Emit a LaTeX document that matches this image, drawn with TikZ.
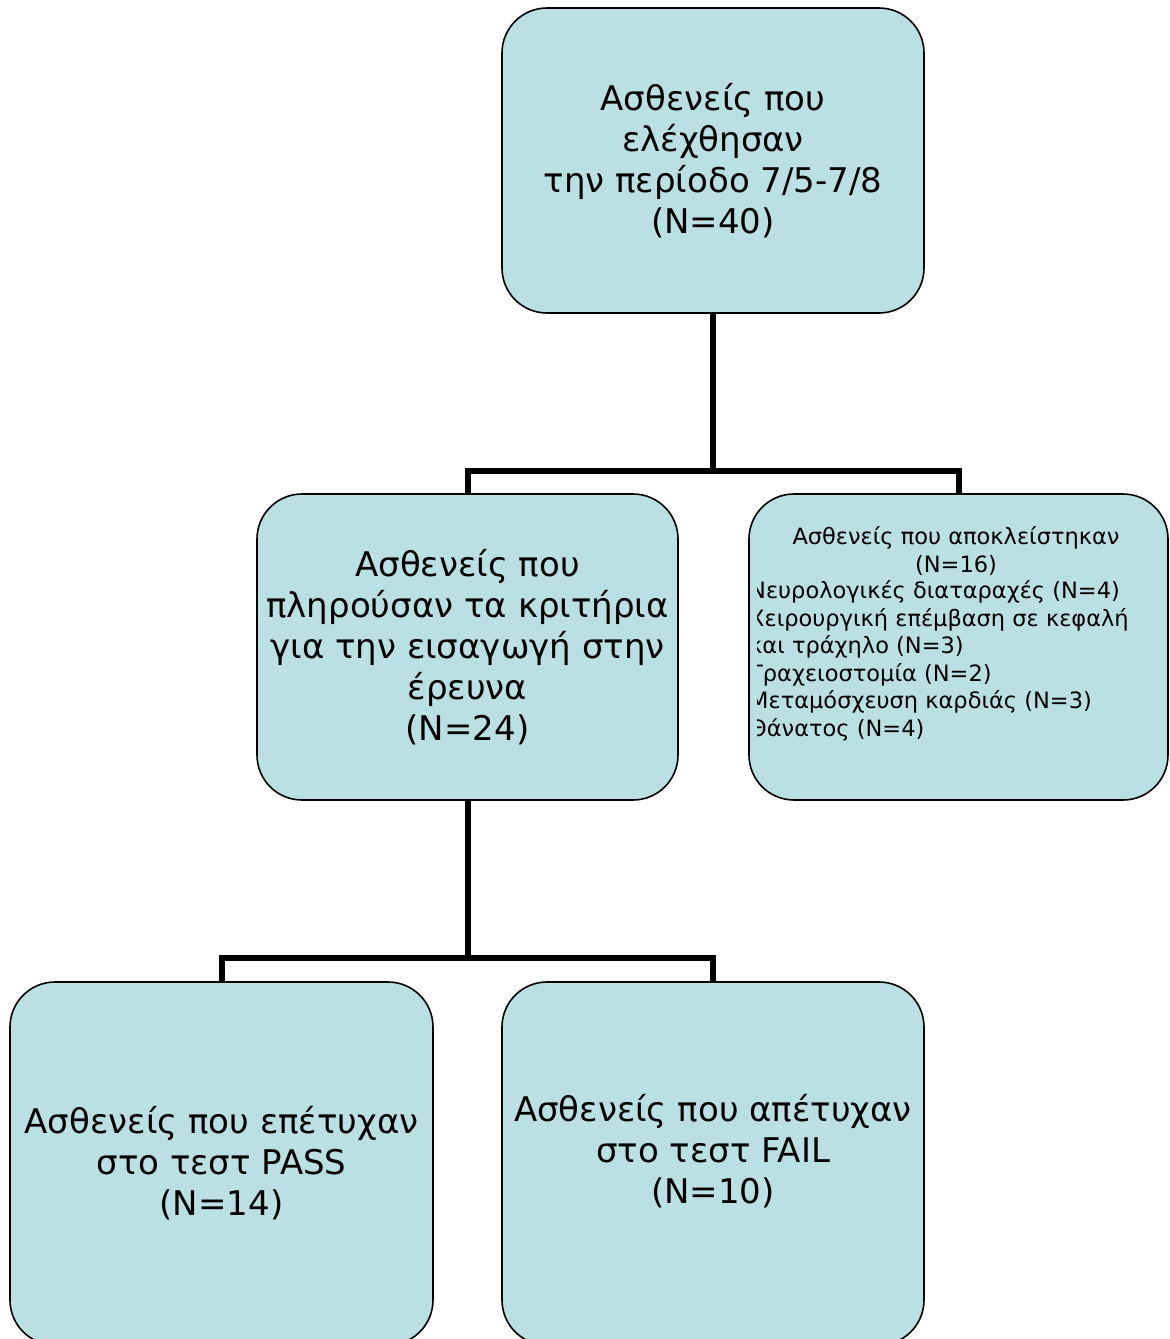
\documentclass[tikz,border=0pt]{standalone}
\usepackage{fontspec}
\setmainfont{DejaVu Sans}
\usetikzlibrary{calc}
\definecolor{boxfill}{RGB}{187,224,227}

\tikzset{
	box/.style={draw=black, line width=1.6pt, fill=boxfill, rounded corners=45pt,
		align=center, inner sep=0pt},
	bigtext/.style={font=\fontsize{34}{41}\selectfont},
	smalltext/.style={font=\fontsize{22.5}{27.5}\selectfont, inner sep=0pt},
	conn/.style={draw=black, line width=6pt}
}

\begin{document}
\begin{tikzpicture}[x=1pt, y=-1pt]
		\useasboundingbox (0,0) rectangle (1170,1339);
		
		% boxes
		\node[box, bigtext, minimum width=422pt, minimum height=305pt] (top) at (713,160.5)
		{Ασθενείς που\\ελέχθησαν\\την περίοδο 7/5-7/8\\(N=40)};
		
		\node[box, bigtext, minimum width=421pt, minimum height=306pt] (incl) at (467.5,647)
		{Ασθενείς που\\πληρούσαν τα κριτήρια\\για την εισαγωγή στην\\έρευνα\\(N=24)};
		
		\node[box, minimum width=419pt, minimum height=306pt] (excl) at (958.5,647) {};
		
		\node[box, bigtext, minimum width=423pt, minimum height=363pt] (pass) at (221.5,1163.5)
		{Ασθενείς που επέτυχαν\\στο τεστ PASS\\(N=14)};
		
		\node[box, minimum width=422pt, minimum height=363pt] (fail) at (713,1163.5) {};
		\node[bigtext, align=center] (failtext) at (713,1151)
		{Ασθενείς που απέτυχαν\\στο τεστ FAIL\\(N=10)};
		
		% excluded patients, text cut at the left
		\begin{scope}
			\clip (757,490) rectangle (1170,805);
			\node[smalltext, align=center] (exclhead) at (956,551) {Ασθενείς που αποκλείστηκαν\\(N=16)};
			\node[smalltext, align=left, anchor=west] (excllist) at (749,661)
			{Νευρολογικές διαταραχές (N=4)\\Χειρουργική επέμβαση σε κεφαλή\\και τράχηλο (N=3)\\Τραχειοστομία (N=2)\\Μεταμόσχευση καρδιάς (N=3)\\Θάνατος (N=4)};
		\end{scope}
		
		% connectors
		\coordinate (j1) at (713,470.5);
		\draw[conn] (top.south) -- (j1);
		\draw[conn] (incl.north) |- (j1) -| (excl.north);
		
		\coordinate (j2) at (467.5,958);
		\draw[conn] (incl.south) -- (j2);
		\draw[conn] (pass.north) |- (j2) -| (fail.north);
		
\end{tikzpicture}
\end{document}
